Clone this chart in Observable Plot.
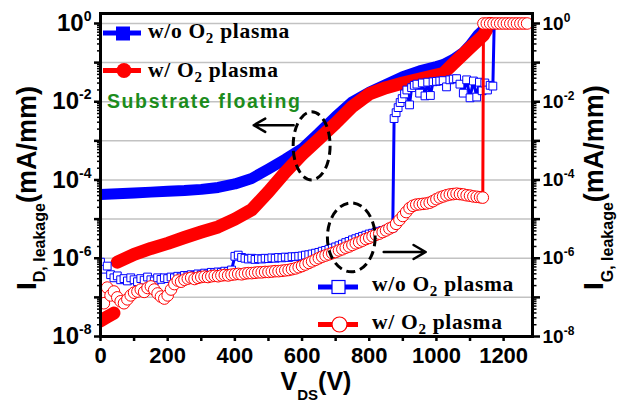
<!DOCTYPE html>
<html><head><meta charset="utf-8">
<script src="https://cdn.jsdelivr.net/npm/d3@7"></script>
<script src="https://cdn.jsdelivr.net/npm/@observablehq/plot@0.6"></script>
<style>
html,body{margin:0;padding:0;background:#fff;}
#chart{width:628px;height:403px;}
</style>
</head><body><div id="chart"></div>
<script>
// ---------- DATA (log10 of mA/mm) ----------
// I_D, w/o O2 plasma (filled blue squares, left axis)
const idWoV   = [0, 50, 100, 150, 200, 250, 300, 350, 400, 450, 500, 550, 600, 650, 700, 750, 800, 850, 900, 950, 1000, 1020, 1050, 1080, 1100, 1125, 1150, 1165];
const idWoLog = [-4.37,-4.35,-4.33,-4.31,-4.29,-4.27,-4.24,-4.19,-4.10,-3.96,-3.72,-3.47,-3.20,-2.80,-2.38,-2.00,-1.76,-1.56,-1.36,-1.21,-1.10,-1.05,-0.92,-0.74,-0.56,-0.28,-0.08,0];
// I_D, w/ O2 plasma (filled red circles, left axis); null = gap in the trace
const idWV   = [0, 20, 40, 45, 50, 100, 150, 200, 250, 300, 350, 400, 450, 500, 550, 600, 650, 700, 750, 800, 850, 900, 950, 1000, 1020, 1050, 1100, 1140, 1160];
const idWLog = [-7.6,-7.5,-7.4,null,-6.1,-5.9,-5.75,-5.62,-5.47,-5.33,-5.2,-5.0,-4.76,-4.3,-3.8,-3.35,-2.95,-2.55,-2.12,-1.8,-1.64,-1.52,-1.42,-1.32,-1.28,-1.03,-0.62,-0.3,0];
// I_G, w/o O2 plasma (open blue squares, right axis)
const igWoV = [...d3.range(0, 871, 10), 874, 880, 886, 892, 898, 905, 912, 920, 926, 934, 942, 950, 958, 966, 974, 982, 990, 1000, 1010, 1020, 1030, 1040, 1050, 1060, 1070, 1080, 1090, 1100, 1110, 1120, 1128, 1136, 1144, 1152, 1160, 1168, 1172];
const igWoLog = [
  -6.10,-6.28,-6.20,-6.42,-6.50,-6.45,-6.55,-6.52,-6.58,-6.50,
  -6.55,-6.60,-6.52,-6.56,-6.48,-6.55,-6.58,-6.50,-6.54,-6.50,
  -6.52,-6.48,-6.50,-6.46,-6.48,-6.44,-6.45,-6.42,-6.44,-6.40,
  -6.42,-6.38,-6.40,-6.36,-6.37,-6.35,-6.36,-6.33,-6.34,-6.30,
  -5.95,-5.92,-5.98,-6.00,-6.02,-6.00,-6.03,-6.01,-6.02,-6.00,
  -6.01,-5.99,-6.00,-5.98,-5.99,-5.97,-5.98,-5.96,-5.96,-5.95,
  -5.94,-5.92,-5.91,-5.89,-5.87,-5.85,-5.82,-5.80,-5.77,-5.74,
  -5.71,-5.68,-5.64,-5.60,-5.57,-5.53,-5.50,-5.47,-5.44,-5.41,
  -5.38,-5.36,-5.34,-5.31,-5.29,-5.27,-5.25,-5.22,
  -2.43,-2.28,-2.15,-2.02,-1.92,-1.80,-1.70,-2.08,-1.64,-1.58,-1.55,-1.78,-1.52,-1.85,-1.50,-1.84,-1.49,
  -1.48,-1.47,-1.46,-1.62,-1.44,-1.42,-1.41,-1.55,-1.78,-1.44,-1.90,-1.47,-1.88,-1.50,-1.72,-1.52,-1.70,-1.58,-1.60,0];
// I_G, w/ O2 plasma (open red circles, right axis)
const igWV = [...d3.range(0, 1131, 10), 1138, ...d3.range(1140, 1271, 10)];
const igWLog = [
  -6.90,-7.15,-6.75,-6.95,-6.85,-7.00,-7.10,-7.15,-7.05,-6.95,
  -6.88,-6.85,-6.80,-6.86,-6.76,-6.72,-6.80,-6.90,-6.98,-7.03,
  -6.95,-6.80,-6.66,-6.57,-6.60,-6.55,-6.52,-6.50,-6.53,-6.50,
  -6.48,-6.47,-6.48,-6.46,-6.45,-6.46,-6.44,-6.43,-6.44,-6.42,
  -6.41,-6.40,-6.41,-6.39,-6.38,-6.38,-6.37,-6.36,-6.36,-6.35,
  -6.35,-6.34,-6.33,-6.33,-6.32,-6.31,-6.30,-6.28,-6.26,-6.23,
  -6.20,-6.16,-6.12,-6.08,-6.04,-6.00,-5.96,-5.93,-5.90,-5.87,
  -5.84,-5.80,-5.77,-5.73,-5.70,-5.66,-5.62,-5.59,-5.55,-5.51,
  -5.48,-5.44,-5.40,-5.37,-5.33,-5.29,-5.24,-5.20,-5.12,-5.02,
  -4.92,-4.82,-4.72,-4.66,-4.63,-4.62,-4.61,-4.60,-4.58,-4.54,
  -4.49,-4.45,-4.42,-4.39,-4.37,-4.36,-4.35,-4.36,-4.37,-4.39,
  -4.40,-4.42,-4.43,-4.44,-4.45,
  0,0,0,0,0,0,0,0,0,0,0,0,0,0];

// ticks and labels
const xTicks  = [0,100,200,300,400,500,600,700,800,900,1000,1100,1200];
const xLabels = [0,200,400,600,800,1000,1200];
const yTickExps  = [-8,-7,-6,-5,-4,-3,-2,-1,0];
const yLabelExps = [-8,-6,-4,-2,0];
const legendTop    = ["w/o O", "w/ O"];
const legendBottom = ["w/o O", "w/ O"];
const noteText = "Substrate floating";

// ---------- BUILD ----------
const blue = "#0000ff", red = "#ff0000";
const rows = (vs, ls) => vs.map((v, i) => ({v, y: ls[i] == null ? NaN : Math.pow(10, ls[i])}));
const idWo = rows(idWoV, idWoLog), idW = rows(idWV, idWLog);
const igWo = rows(igWoV, igWoLog), igW = rows(igWV, igWLog);
const majorY = yTickExps.map(e => Math.pow(10, e));
const minorY = yTickExps.slice(0, -1).flatMap(e => [2,3,4,5,6,7,8,9].map(m => m * Math.pow(10, e)));
const fmtY = p => d => { const e = Math.round(Math.log10(d)); return yLabelExps.includes(e) ? p + e : ""; };

const plot = Plot.plot({
  width: 628, height: 403,
  marginLeft: 100, marginRight: 96, marginTop: 13, marginBottom: 67,
  x: {domain: [0, 1286]},
  y: {type: "log", domain: [1e-8, Math.pow(10, 0.2553)]},
  style: {fontFamily: "'Liberation Sans', Arial, sans-serif", background: "white", overflow: "visible"},
  marks: [
    Plot.ruleY(majorY.slice(1), {stroke: "#c2c2c2", strokeWidth: 1.5}),
    Plot.line(idWo, {x: "v", y: "y", stroke: blue, strokeWidth: 11, strokeLinecap: "round", strokeLinejoin: "round", clip: true}),
    Plot.line(idW, {x: "v", y: "y", stroke: red, strokeWidth: 13, strokeLinecap: "round", strokeLinejoin: "round", clip: true}),
    Plot.line(igWo, {x: "v", y: "y", stroke: blue, strokeWidth: 3, clip: true}),
    Plot.dot(igWo, {x: "v", y: "y", symbol: "square", r: 4.4, stroke: blue, strokeWidth: 1, fill: "white", clip: true}),
    Plot.line(igW, {x: "v", y: "y", stroke: red, strokeWidth: 3, clip: true}),
    Plot.dot(igW, {x: "v", y: "y", r: 5.8, stroke: red, strokeWidth: 1, fill: "white", clip: true}),
    Plot.arrow([{x1: 575, x2: 456, y: Math.pow(10, -2.6)}], {x1: "x1", x2: "x2", y1: "y", y2: "y", stroke: "black", strokeWidth: 2.5, headLength: 14, headAngle: 60}),
    Plot.arrow([{x1: 843, x2: 968, y: Math.pow(10, -5.84)}], {x1: "x1", x2: "x2", y1: "y", y2: "y", stroke: "black", strokeWidth: 2.5, headLength: 14, headAngle: 60}),
    Plot.axisX({ticks: xTicks, tickSize: 5, tickPadding: 6, strokeWidth: 2.5, label: null,
      tickFormat: d => xLabels.includes(d) ? String(d) : "", fontSize: 22, fontWeight: "bold"}),
    Plot.axisY({anchor: "left", ticks: majorY, tickSize: 6, tickPadding: 3, strokeWidth: 2.5, label: null,
      tickFormat: fmtY("L"), fontSize: 24, fontWeight: "bold"}),
    Plot.axisY({anchor: "left", ticks: minorY, tickSize: 3, strokeWidth: 1.5, label: null, tickFormat: () => ""}),
    Plot.axisY({anchor: "right", ticks: majorY, tickSize: 7, tickPadding: 3, strokeWidth: 2.5, label: null,
      tickFormat: fmtY("R"), fontSize: 19, fontWeight: "bold"}),
    Plot.axisY({anchor: "right", ticks: minorY, tickSize: 3.5, strokeWidth: 1.5, label: null, tickFormat: () => ""}),
    Plot.frame({stroke: "black", strokeWidth: 3})
  ]
});
document.getElementById("chart").append(plot);

// ---------- post-processing: superscripts, titles, legends, annotations ----------
const NS = "http://www.w3.org/2000/svg";
function el(tag, attrs, parent, text) {
  const e = document.createElementNS(NS, tag);
  for (const k in attrs) e.setAttribute(k, attrs[k]);
  if (text != null) e.textContent = text;
  (parent || plot).appendChild(e);
  return e;
}
plot.querySelectorAll("text").forEach(t => {
  const m = /^([LR])(-?\d+)$/.exec(t.textContent);
  if (!m) return;
  t.textContent = "";
  el("tspan", {}, t, "10");
  el("tspan", {"font-size": m[1] === "L" ? 14 : 12, dy: m[1] === "L" ? -10 : -8}, t, m[2]);
});

const xs = plot.scale("x"), ys = plot.scale("y");
// dashed ellipses
function ellipse(v, lg, dv, dlg) {
  const cx = xs.apply(v), cy = ys.apply(Math.pow(10, lg));
  el("ellipse", {cx, cy, rx: xs.apply(v + dv) - cx, ry: ys.apply(Math.pow(10, lg - dlg)) - cy,
    fill: "none", stroke: "black", "stroke-width": 3, "stroke-dasharray": "9,5"});
}
ellipse(630, -3.14, 55, 0.87);
ellipse(748, -5.48, 71, 0.88);

// axis titles
const sans = "'Liberation Sans', Arial, sans-serif", serif = "'Liberation Serif', 'Times New Roman', serif";
const xt = el("text", {x: 316, y: 390, "text-anchor": "middle", "font-family": sans, "font-weight": "bold", "font-size": 25, fill: "black"});
el("tspan", {}, xt, "V");
el("tspan", {"font-size": 15, dy: 10}, xt, "DS");
el("tspan", {dy: -10}, xt, "(V)");
function yTitle(x, sub, subDy) {
  const t = el("text", {transform: `translate(${x},290) rotate(-90)`, "text-anchor": "start", "font-family": sans, "font-weight": "bold", "font-size": 28, fill: "black"});
  el("tspan", {}, t, "I");
  el("tspan", {"font-size": 16, dy: subDy}, t, sub);
  el("tspan", {"font-size": 27, dy: -subDy}, t, "(mA/mm)");
}
yTitle(36, "D, leakage", 9);
yTitle(603, "G, leakage", 10);

// legends
function legendText(x, y, pre) {
  const t = el("text", {x, y, "text-anchor": "start", "font-family": serif, "font-weight": "bold", "font-size": 21.5, style: "letter-spacing:0.7px", fill: "black"});
  el("tspan", {}, t, pre);
  el("tspan", {"font-size": 15, dy: 5}, t, "2");
  el("tspan", {dy: -5}, t, " plasma");
}
el("line", {x1: 103, x2: 141, y1: 33, y2: 33, stroke: blue, "stroke-width": 5});
el("rect", {x: 116, y: 26.5, width: 14, height: 14, fill: blue});
legendText(148, 38, legendTop[0]);
el("line", {x1: 103, x2: 141, y1: 70.5, y2: 70.5, stroke: red, "stroke-width": 5});
el("circle", {cx: 124, cy: 70.5, r: 7.5, fill: red});
legendText(148, 77, legendTop[1]);

el("line", {x1: 318, x2: 358, y1: 287, y2: 287, stroke: blue, "stroke-width": 5});
el("rect", {x: 332, y: 280.5, width: 13, height: 13, fill: "white", stroke: blue, "stroke-width": 1.2});
legendText(372, 291, legendBottom[0]);
el("line", {x1: 318, x2: 358, y1: 324.5, y2: 324.5, stroke: red, "stroke-width": 5});
el("circle", {cx: 339.5, cy: 324.5, r: 7.5, fill: "white", stroke: red, "stroke-width": 1.2});
legendText(372, 329, legendBottom[1]);

el("text", {x: 107, y: 108, "text-anchor": "start", "font-family": sans, "font-weight": "bold", "font-size": 19.5, style: "letter-spacing:1.6px", fill: "#1c8c1c"}, plot, noteText);
</script>
</body></html>
